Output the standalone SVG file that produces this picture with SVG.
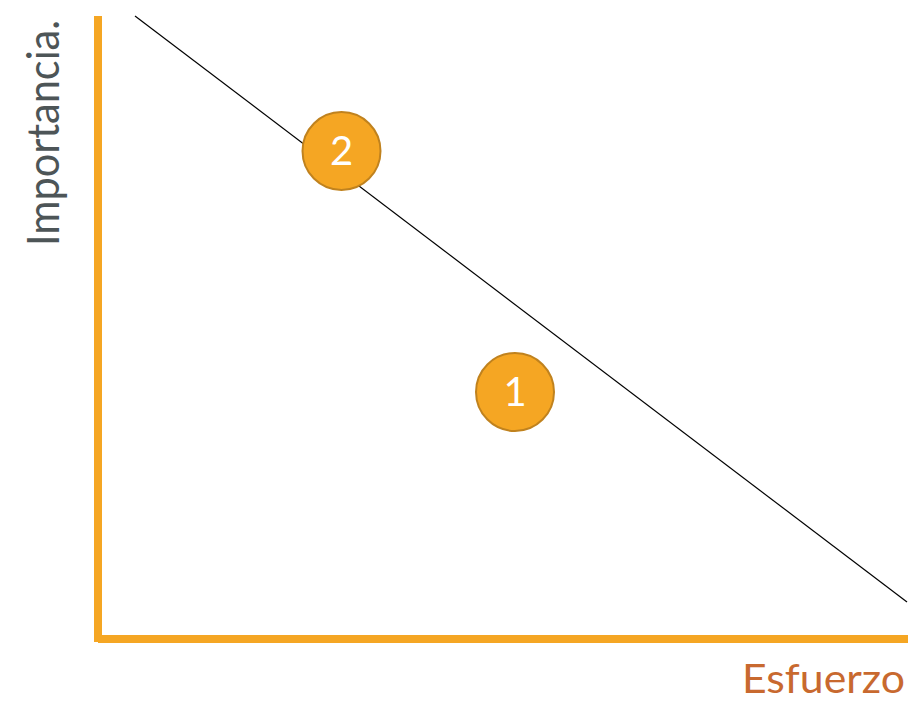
<svg xmlns="http://www.w3.org/2000/svg" width="917" height="701" viewBox="0 0 917 701">
<style>
.axis{fill:#F5A623}
.node circle{fill:#F5A623;stroke:#C0821E;stroke-width:2}
.node text{fill:#fff;font-family:Lato,"Open Sans",sans-serif;font-size:40px;text-anchor:middle}
</style>
<rect width="917" height="701" fill="#fff"/>
<g id="axes">
<rect class="axis" x="94" y="16" width="8" height="626"/>
<rect class="axis" x="98" y="635" width="810" height="8"/>
</g>
<g id="connectors">
<line x1="135" y1="16" x2="907" y2="602" stroke="#000" stroke-width="1.2"/>
</g>
<g id="node2" class="node">
<circle cx="341.5" cy="151" r="39"/>
<text x="341.5" y="165">2</text>
</g>
<g id="node1" class="node">
<circle cx="515" cy="392" r="39"/>
<text x="515" y="406">1</text>
</g>
<text x="0" y="0" transform="translate(59,246) rotate(-90)" font-family="Lato,'Open Sans',sans-serif" font-size="45" fill="#4D5557" textLength="226" lengthAdjust="spacingAndGlyphs">Importancia.</text>
<text x="742" y="693" font-family="Lato,'Open Sans',sans-serif" font-size="40" fill="#C8692F" textLength="163" lengthAdjust="spacingAndGlyphs">Esfuerzo</text>
</svg>
